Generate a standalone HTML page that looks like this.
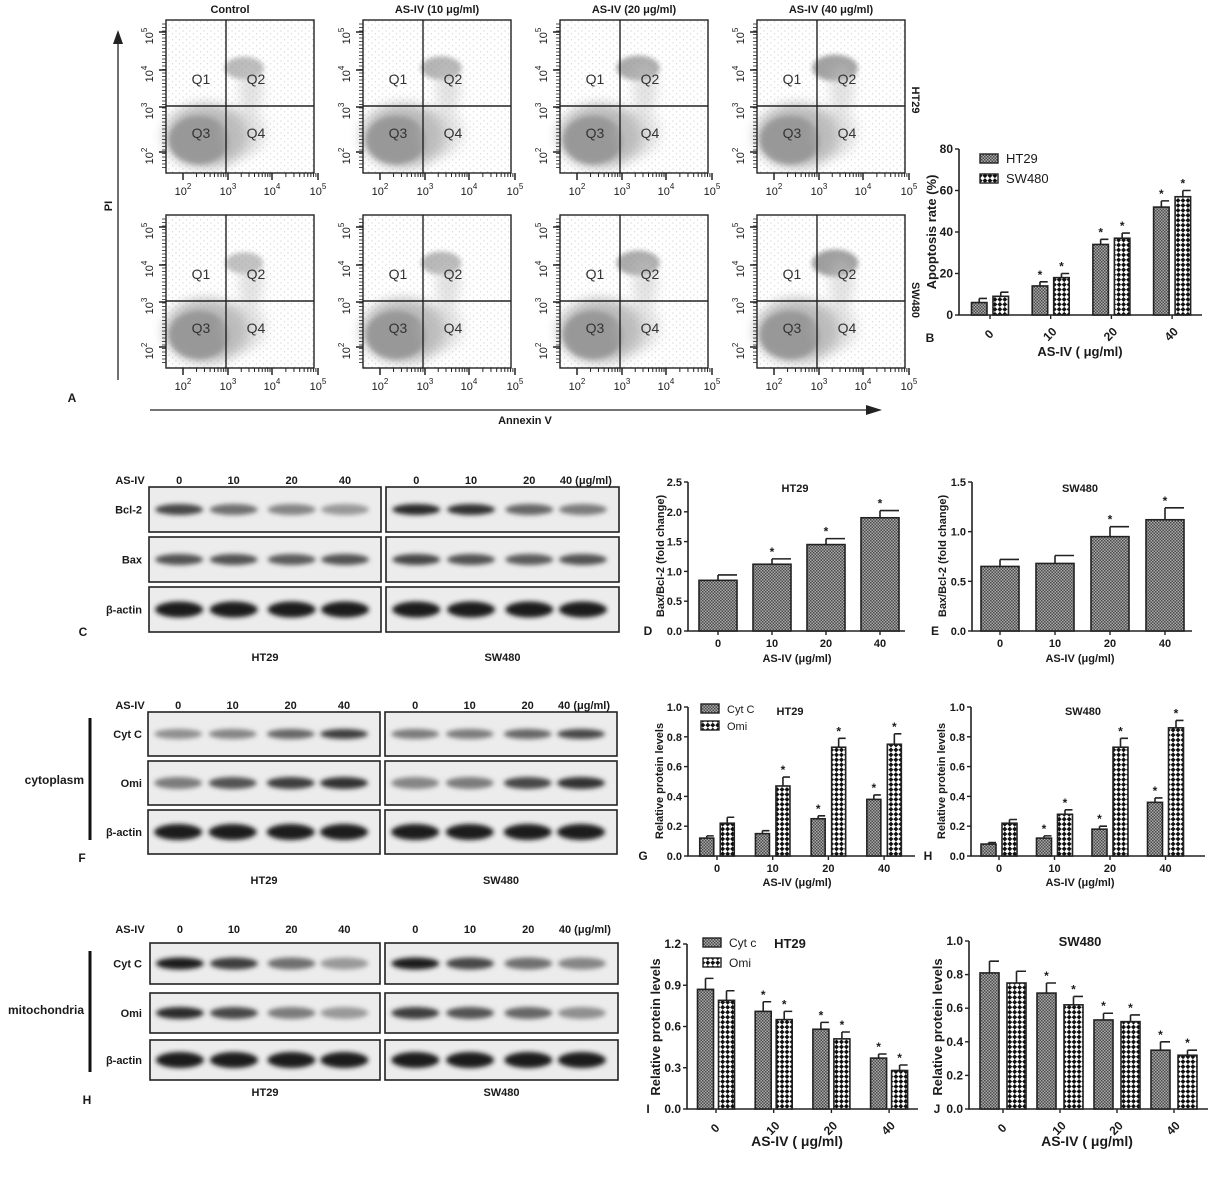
<!DOCTYPE html>
<html><head><meta charset="utf-8"><style>
html,body{margin:0;padding:0;background:#fff;}
svg{display:block;font-family:"Liberation Sans",Arial,sans-serif;}
</style></head><body>
<svg id="fig" width="1208" height="1182" viewBox="0 0 1208 1182" xmlns="http://www.w3.org/2000/svg">
<defs>
<pattern id="fine" width="3" height="3" patternUnits="userSpaceOnUse"><rect width="3" height="3" fill="#aaa"/><rect width="1.5" height="1.5" fill="#4a4a4a"/><rect x="1.5" y="1.5" width="1.5" height="1.5" fill="#4a4a4a"/></pattern>
<pattern id="check" width="7" height="7" patternUnits="userSpaceOnUse" patternTransform="rotate(45)"><rect width="7" height="7" fill="#fff"/><rect width="3.5" height="3.5" fill="#111"/><rect x="3.5" y="3.5" width="3.5" height="3.5" fill="#111"/></pattern>
<pattern id="dots" width="7" height="6" patternUnits="userSpaceOnUse"><circle cx="1" cy="1" r="0.6" fill="#888"/><circle cx="4.5" cy="3.8" r="0.6" fill="#888"/></pattern>
<pattern id="grain" width="4" height="4" patternUnits="userSpaceOnUse"><rect width="4" height="4" fill="#8c8c8c"/><circle cx="1" cy="1" r="0.7" fill="#c8c8c8"/><circle cx="3" cy="3" r="0.6" fill="#b0b0b0"/></pattern>
<filter id="blur" x="-50%" y="-50%" width="200%" height="200%"><feGaussianBlur stdDeviation="2.3"/></filter>
<filter id="blur2" x="-50%" y="-50%" width="200%" height="200%"><feGaussianBlur stdDeviation="6"/></filter>
</defs>
<g id="root"></g>
</svg>
<script>
// ---- Chart data ----
const doses = ["0","10","20","40"];
const bHT29 = [6, 14, 34, 52];
const bSW480 = [9, 18, 37, 57];
const bHT29Err = [2, 2, 2.5, 3];
const bSW480Err = [2, 2, 2.5, 3];
const bStars = [false, true, true, true];
const bTicks = [0, 20, 40, 60, 80];

const dVals = [0.85, 1.12, 1.45, 1.9];
const dErr = [0.09, 0.09, 0.1, 0.12];
const dStars = [false, true, true, true];
const dTicks = [0, 0.5, 1.0, 1.5, 2.0, 2.5];

const eVals = [0.65, 0.68, 0.95, 1.12];
const eErr = [0.07, 0.08, 0.1, 0.12];
const eStars = [false, false, true, true];
const eTicks = [0, 0.5, 1.0, 1.5];

const gCyt = [0.12, 0.15, 0.25, 0.38];
const gOmi = [0.22, 0.47, 0.73, 0.75];
const gCytErr = [0.015, 0.02, 0.02, 0.03];
const gOmiErr = [0.04, 0.06, 0.06, 0.07];
const gCytStars = [false, false, true, true];
const gOmiStars = [false, true, true, true];

const hCyt = [0.08, 0.12, 0.18, 0.36];
const hOmi = [0.22, 0.28, 0.73, 0.86];
const hCytErr = [0.01, 0.015, 0.02, 0.03];
const hOmiErr = [0.025, 0.03, 0.06, 0.05];
const hCytStars = [false, true, true, true];
const hOmiStars = [false, true, true, true];
const ghTicks = [0, 0.2, 0.4, 0.6, 0.8, 1.0];

const iCyt = [0.87, 0.71, 0.58, 0.37];
const iOmi = [0.79, 0.65, 0.51, 0.28];
const iCytErr = [0.08, 0.07, 0.05, 0.03];
const iOmiErr = [0.07, 0.06, 0.05, 0.04];
const iTicks = [0, 0.3, 0.6, 0.9, 1.2];

const jCyt = [0.81, 0.69, 0.53, 0.35];
const jOmi = [0.75, 0.62, 0.52, 0.32];
const jCytErr = [0.07, 0.06, 0.04, 0.05];
const jOmiErr = [0.07, 0.05, 0.04, 0.03];
const ijStars = [false, true, true, true];
const jTicks = [0, 0.2, 0.4, 0.6, 0.8, 1.0];

// western blot band intensities (darkness 0..1), HT29 lanes then SW480 lanes
const cBcl2 = [[0.75,0.55,0.45,0.35],[0.9,0.85,0.6,0.5]];
const cBax = [[0.7,0.7,0.65,0.7],[0.75,0.7,0.65,0.7]];
const cActin = [[0.95,0.95,0.95,0.95],[0.95,0.95,0.95,0.95]];
const fCyt = [[0.4,0.45,0.6,0.8],[0.5,0.5,0.6,0.75]];
const fOmi = [[0.5,0.7,0.8,0.85],[0.45,0.5,0.75,0.85]];
const hmCyt = [[0.95,0.8,0.55,0.35],[0.95,0.75,0.55,0.45]];
const hmOmi = [[0.9,0.75,0.5,0.35],[0.8,0.7,0.6,0.4]];

// flow cytometry Q2 cluster strength per dose (row HT29, row SW480)
const flowQ2 = [[0.45,0.55,0.7,0.85],[0.35,0.5,0.7,0.9]];
const flowTitles = ["Control","AS-IV (10 μg/ml)","AS-IV (20 μg/ml)","AS-IV (40 μg/ml)"];

// ---- helpers ----
const NS="http://www.w3.org/2000/svg";
const root=document.getElementById('root');
function el(tag, attrs, parent){const e=document.createElementNS(NS,tag);for(const k in attrs)e.setAttribute(k,attrs[k]);(parent||root).appendChild(e);return e;}
function txt(x,y,s,opt,parent){opt=opt||{};const t=el('text',{x:x,y:y,'font-size':opt.size||11,'font-weight':opt.weight||'bold','text-anchor':opt.anchor||'middle',fill:opt.fill||'#1a1a1a'},parent);if(opt.rot!==undefined)t.setAttribute('transform','rotate('+opt.rot+' '+x+' '+y+')');t.textContent=s;return t;}

// ---- bar chart ----
function barChart(cfg){
  const g=el('g',{});
  
  
  const yScale=v=>cfg.y0-(v/cfg.max)*(cfg.y0-cfg.yTop);
  const xCenter=i=>cfg.first+i*cfg.step;
  const ax=el('path',{d:`M${cfg.x0} ${cfg.yTop} L${cfg.x0} ${cfg.y0} L${cfg.x1} ${cfg.y0}`,stroke:'#222','stroke-width':1.6,fill:'none'},g);
  
  
  cfg.ticks.forEach(t=>{
    const y=yScale(t);
    el('line',{x1:cfg.x0-4,x2:cfg.x0,y1:y,y2:y,stroke:'#222','stroke-width':1.4},g);
    const lab=txt(cfg.x0-6,y+4,cfg.fmt(t),{anchor:'end',size:cfg.fs||11},g);
    
    
  });
  doses.forEach((d,i)=>{
    const cx=xCenter(i);
    el('line',{x1:cx,x2:cx,y1:cfg.y0,y2:cfg.y0+4,stroke:'#222','stroke-width':1.4},g);
    let lab;
    if(cfg.rot){lab=txt(cx+2,cfg.y0+22,d,{size:cfg.fs||12,rot:-45},g);}
    else lab=txt(cx,cfg.y0+16,d,{size:11},g);
    
    
  });
  cfg.series.forEach((s,si)=>{
    const n=cfg.series.length;
    s.vals.forEach((v,i)=>{
      const cx=xCenter(i)+(n===2?(si===0?-cfg.sep/2:cfg.sep/2):0);
      const y=yScale(v), w=cfg.bw;
      const r=el('rect',{x:cx-w/2,y:y,width:w,height:cfg.y0-y,fill:'url(#'+s.pat+')',stroke:'#222','stroke-width':1.6},g);
      
      
      const ye=yScale(v+s.err[i]);
      el('path',{d:`M${cx} ${y} L${cx} ${ye} M${cx} ${ye} L${cx+w/2} ${ye}`,stroke:'#222','stroke-width':1.6,fill:'none'},g);
      if(s.stars&&s.stars[i]){const st=txt(cx,ye-3,'*',{size:12,weight:'bold'},g);}
    });
  });
  if(cfg.title){const t=txt(cfg.title[0],cfg.title[1],cfg.title[2],{size:cfg.titleSize||11},g);}
  const yl=txt(cfg.ylab[0],cfg.ylab[1],cfg.ylab[2],{size:cfg.ylabSize||11,rot:-90},g);
  
  
  const xl=txt(cfg.xlab[0],cfg.xlab[1],cfg.xlab[2],{size:cfg.xlabSize||11},g);
  
  
  if(cfg.legend){cfg.legend.items.forEach((it,k)=>{
    const ly=cfg.legend.y+k*cfg.legend.dy;
    const lr=el('rect',{x:cfg.legend.x,y:ly-6,width:18,height:9,fill:'url(#'+it[1]+')',stroke:'#222','stroke-width':1.4},g);
    
    
    const lt=txt(cfg.legend.x+26,ly+3,it[0],{anchor:'start',size:cfg.legend.fs||11,weight:cfg.legend.fw||'normal'},g);
    
    
  });}
  const pl=txt(cfg.letter[0],cfg.letter[1],cfg.letter[2],{size:12},g);
  
  
}

const f1=t=>t.toFixed(1);
barChart({name:'chart-b-apoptosis',x0:959,x1:1202,yTop:149,y0:315,max:80,ticks:bTicks,fmt:t=>String(t),fs:12,rot:true,
  first:990,step:60.7,bw:15.5,sep:21.5,
  series:[{key:'ht29',vals:bHT29,err:bHT29Err,pat:'fine',stars:bStars},{key:'sw480',vals:bSW480,err:bSW480Err,pat:'check',stars:bStars}],
  ylab:[936,232,'Apoptosis rate (%)'],ylabSize:13,xlab:[1080,356,'AS-IV ( μg/ml)'],xlabSize:13,
  legend:{x:980,y:160,dy:20,fs:13,items:[['HT29','fine'],['SW480','check']]},letter:[930,342,'B']});
barChart({name:'chart-d-ht29-bax-bcl2',x0:688,x1:905,yTop:482,y0:631,max:2.5,ticks:dTicks,fmt:f1,
  first:718,step:54,bw:38,sep:0,series:[{key:'ht29',vals:dVals,err:dErr,pat:'fine',stars:dStars}],
  title:[795,492,'HT29'],ylab:[664,556,'Bax/Bcl-2 (fold change)'],xlab:[797,662,'AS-IV (μg/ml)'],letter:[648,635,'D']});
barChart({name:'chart-e-sw480-bax-bcl2',x0:972,x1:1192,yTop:482,y0:631,max:1.5,ticks:eTicks,fmt:f1,
  first:1000,step:55,bw:38,sep:0,series:[{key:'sw480',vals:eVals,err:eErr,pat:'fine',stars:eStars}],
  title:[1080,492,'SW480'],ylab:[946,556,'Bax/Bcl-2 (fold change)'],xlab:[1080,662,'AS-IV (μg/ml)'],letter:[935,635,'E']});
barChart({name:'chart-g-ht29-cytoplasm',x0:688,x1:915,yTop:707,y0:856,max:1.0,ticks:ghTicks,fmt:f1,
  first:717,step:55.7,bw:14,sep:20.5,
  series:[{key:'cytc',vals:gCyt,err:gCytErr,pat:'fine',stars:gCytStars},{key:'omi',vals:gOmi,err:gOmiErr,pat:'check',stars:gOmiStars}],
  title:[790,715,'HT29'],ylab:[663,781,'Relative protein levels'],xlab:[797,886,'AS-IV (μg/ml)'],
  legend:{x:701,y:710,dy:17,items:[['Cyt C','fine'],['Omi','check']]},letter:[643,860,'G']});
barChart({name:'chart-h-sw480-cytoplasm',x0:971,x1:1205,yTop:707,y0:856,max:1.0,ticks:ghTicks,fmt:f1,
  first:999,step:55.5,bw:15,sep:21,
  series:[{key:'cytc',vals:hCyt,err:hCytErr,pat:'fine',stars:hCytStars},{key:'omi',vals:hOmi,err:hOmiErr,pat:'check',stars:hOmiStars}],
  title:[1083,715,'SW480'],ylab:[945,781,'Relative protein levels'],xlab:[1080,886,'AS-IV (μg/ml)'],letter:[928,860,'H']});
barChart({name:'chart-i-ht29-mitochondria',x0:687,x1:918,yTop:944,y0:1109,max:1.2,ticks:iTicks,fmt:f1,fs:12,rot:true,
  first:716,step:57.7,bw:16,sep:21,
  series:[{key:'cytc',vals:iCyt,err:iCytErr,pat:'fine',stars:ijStars},{key:'omi',vals:iOmi,err:iOmiErr,pat:'check',stars:ijStars}],
  title:[790,948,'HT29'],titleSize:13,ylab:[660,1027,'Relative protein levels'],ylabSize:13,xlab:[797,1146,'AS-IV ( μg/ml)'],xlabSize:14,
  legend:{x:703,y:944,dy:20,fs:12,items:[['Cyt c','fine'],['Omi','check']]},letter:[648,1113,'I']});
barChart({name:'chart-j-sw480-mitochondria',x0:969,x1:1208,yTop:941,y0:1109,max:1.0,ticks:jTicks,fmt:f1,fs:12,rot:true,
  first:1003,step:57,bw:19,sep:27,
  series:[{key:'cytc',vals:jCyt,err:jCytErr,pat:'fine',stars:ijStars},{key:'omi',vals:jOmi,err:jOmiErr,pat:'check',stars:ijStars}],
  title:[1080,946,'SW480'],titleSize:13,ylab:[942,1027,'Relative protein levels'],ylabSize:13,xlab:[1087,1146,'AS-IV ( μg/ml)'],xlabSize:14,letter:[937,1113,'J']});

// ---- western blots ----
const laneFrac=[0.13,0.365,0.615,0.845];
function blotPanel(cfg){
  const g=el('g',{});
  
  
  const hy=cfg.headY;
  const l0=txt(130,hy,'AS-IV',{size:11},g);
  
  
  cfg.boxes.forEach((bx,bi)=>{
    doses.forEach((d,i)=>{
      const cx=bx[0]+laneFrac[i]*(bx[1]-bx[0]);
      if(bi===1&&i===3){txt(cx+3,hy,'40 (μg/ml)',{size:11},g);} else txt(cx,hy,d,{size:11},g);
    });
    const cl=txt((bx[0]+bx[1])/2,cfg.cellY,bi===0?'HT29':'SW480',{size:11},g);
    
    
  });
  cfg.rows.forEach((row,ri)=>{
    const y0=row[1], y1=row[2];
    const lab=txt(142,(y0+y1)/2+4,row[0],{anchor:'end',size:11},g);
    
    
    cfg.boxes.forEach((bx,bi)=>{
      const r=el('rect',{x:bx[0],y:y0,width:bx[1]-bx[0],height:y1-y0,fill:'#ececec',stroke:'#222','stroke-width':1.6},g);
      
      
      const data=row[3][bi];
      data.forEach((v,i)=>{
        const cx=bx[0]+laneFrac[i]*(bx[1]-bx[0]);
        const hh=row[4];
        const c=Math.round(225-205*v);
        const b=el('ellipse',{cx:cx,cy:(y0+y1)/2,rx:24,ry:hh,fill:`rgb(${c},${c},${c})`,filter:'url(#blur)'},g);
        
        
      });
    });
  });
  if(cfg.bracket){
    el('line',{x1:90,x2:90,y1:cfg.bracket[0],y2:cfg.bracket[1],stroke:'#111','stroke-width':3},g);
    const bl=txt(cfg.bracket[2],cfg.bracket[3],cfg.bracket[4],{size:12,anchor:'end'},g);
    
    
  }
  const pl=txt(cfg.letter[0],cfg.letter[1],cfg.letter[2],{size:12},g);
  
  
}
blotPanel({name:'western-blot-c',headY:484,cellY:661,boxes:[[149,381],[386,619]],
  rows:[['Bcl-2',487,532,cBcl2,5.5],['Bax',537,582,cBax,5.5],['β-actin',587,632,cActin,8]],letter:[83,636,'C']});
blotPanel({name:'western-blot-f',headY:709,cellY:884,boxes:[[148,380],[385,617]],
  rows:[['Cyt C',712,756,fCyt,5],['Omi',761,805,fOmi,6],['β-actin',810,854,cActin,8]],
  bracket:[718,840,84,784,'cytoplasm'],letter:[82,862,'F']});
blotPanel({name:'western-blot-h',headY:933,cellY:1096,boxes:[[150,380],[385,618]],
  rows:[['Cyt C',943,984,hmCyt,6],['Omi',993,1033,hmOmi,6],['β-actin',1040,1080,cActin,8]],
  bracket:[951,1072,84,1014,'mitochondria'],letter:[87,1104,'H']});

// ---- flow cytometry ----
const colLeft=[166,363,560,757];
const rowTop=[20,215];
const pw=148, ph=153;
rowTop.forEach((top,ri)=>{
  colLeft.forEach((left,ci)=>{
    const g=el('g',{});
    
    
    const qx=left+60, qy=top+86;
    el('rect',{x:left,y:top,width:pw,height:ph,fill:'#fff'},g);
    el('rect',{x:left,y:top,width:pw,height:ph,fill:'url(#dots)',opacity:0.45},g);
    // Q3 population
    el('ellipse',{cx:left+40,cy:top+116,rx:42,ry:32,fill:'#a8a8a8',opacity:0.8,filter:'url(#blur2)'},g);
    el('ellipse',{cx:left+33,cy:top+120,rx:30,ry:24,fill:'url(#grain)',opacity:0.9,filter:'url(#blur)'},g);
    // Q2 population
    const s=flowQ2[ri][ci];
    el('ellipse',{cx:left+78,cy:top+48,rx:16+8*s,ry:9+5*s,fill:'#8e8e8e',opacity:0.35+0.55*s,filter:'url(#blur)'},g);
    el('ellipse',{cx:left+85,cy:top+68,rx:12,ry:24,fill:'#c4c4c4',opacity:0.5,filter:'url(#blur2)'},g);
    // Q4 scatter
    el('ellipse',{cx:left+78,cy:top+112,rx:22,ry:24,fill:'#c0c0c0',opacity:0.45,filter:'url(#blur2)'},g);
    el('rect',{x:left,y:top,width:pw,height:ph,fill:'none',stroke:'#222','stroke-width':1.4},g);
    el('line',{x1:qx,x2:qx,y1:top,y2:top+ph,stroke:'#222','stroke-width':1.4},g);
    el('line',{x1:left,x2:left+pw,y1:qy,y2:qy,stroke:'#222','stroke-width':1.4},g);
    [['Q1',left+35,top+64],['Q2',left+90,top+64],['Q3',left+35,top+118],['Q4',left+90,top+118]].forEach(q=>{
      const t=txt(q[1],q[2],q[0],{size:14,weight:'normal',fill:'#333'},g);
      
      
    });
    // ticks
    const xt=[17,62,106,152], yt=[12,50,87,132];
    xt.forEach((dx,k)=>{
      el('line',{x1:left+dx,x2:left+dx,y1:top+ph,y2:top+ph+7,stroke:'#222','stroke-width':1.5},g);
      for(let m=1;m<9&&k<3;m++){const mx=left+dx+(xt[k+1]-dx)*Math.log10(m+1);el('line',{x1:mx,x2:mx,y1:top+ph,y2:top+ph+4,stroke:'#222','stroke-width':1},g);}
      const t=txt(left+dx,top+ph+22,'10',{size:11,weight:'normal'},g);
      const sup=el('tspan',{dy:-6,'font-size':8},t); sup.textContent=String(k+2);
    });
    yt.forEach((dy,k)=>{
      el('line',{x1:left-7,x2:left,y1:top+dy,y2:top+dy,stroke:'#222','stroke-width':1.5},g);
      const t=txt(left-13,top+dy+4,'10',{size:11,weight:'normal',rot:-90},g);
      const sup=el('tspan',{dy:-6,'font-size':8},t); sup.textContent=String(5-k);
    });
    for(let yy=top+4;yy<top+ph-2;yy+=3.5){el('line',{x1:left-4,x2:left,y1:yy,y2:yy,stroke:'#222','stroke-width':0.8},g);}
    if(ri===0){const tt=txt(left+(ci===0?64:74),13,flowTitles[ci],{size:11},g);}
  });
});
const fa=el('g',{});


el('line',{x1:118,x2:118,y1:42,y2:380,stroke:'#222','stroke-width':1.3},fa);
el('path',{d:'M113 44 L118 30 L123 44 Z',fill:'#222'},fa);
txt(112,206,'PI',{size:11,rot:-90},fa);
el('line',{x1:150,x2:868,y1:410,y2:410,stroke:'#222','stroke-width':1.3},fa);
el('path',{d:'M866 405 L882 410 L866 415 Z',fill:'#222'},fa);
txt(525,424,'Annexin V',{size:11},fa);
txt(72,402,'A',{size:12},fa);
txt(912,100,'HT29',{size:11,rot:90},fa);
txt(912,300,'SW480',{size:11,rot:90},fa);
</script>
</body></html>
